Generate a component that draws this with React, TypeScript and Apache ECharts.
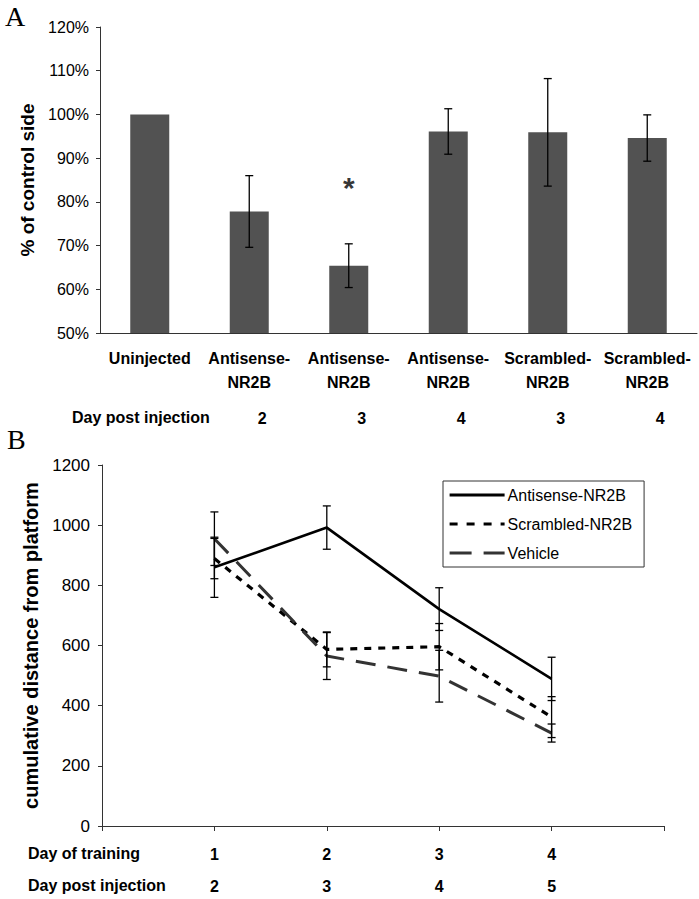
import React, { useEffect, useRef } from 'react';
import * as echarts from 'echarts';

// ---------- Panel A data ----------
const groupsA = ['Uninjected', 'Antisense-\nNR2B', 'Antisense-\nNR2B', 'Antisense-\nNR2B', 'Scrambled-\nNR2B', 'Scrambled-\nNR2B'];
const dayPostA = ['', '2', '3', '4', '3', '4'];
const percentA = [100, 77.8, 65.4, 96.1, 95.9, 94.6];
const errA = [0, 8.2, 5.0, 5.2, 12.3, 5.3];
const sigIndex = [2];
const sigValue = [84];

// ---------- Panel B data ----------
const daysB = [1, 2, 3, 4];
const dayTrainingLabels = ['1', '2', '3', '4'];
const dayPostB = ['2', '3', '4', '5'];
const antisense = [860, 992, 721, 489];
const antisenseErr = [100, 72, 71, 72];
const scrambled = [889, 587, 596, 362];
const scrambledErr = [67, 58, 77, 68];
const vehicle = [955, 565, 498, 309];
const vehicleErr = [89, 78, 86, 30];

const FONT = "'Liberation Sans', Arial, sans-serif";

function errRender(params: any, api: any) {
  const x = api.value(0);
  const y = api.value(1);
  const e = api.value(2);
  if (!e) return { type: 'group', children: [] };
  const top = api.coord([x, y + e]);
  const bot = api.coord([x, y - e]);
  const hw = 4;
  const style = { stroke: '#000', lineWidth: 1.3 };
  return {
    type: 'group',
    children: [
      { type: 'line', shape: { x1: top[0], y1: top[1], x2: bot[0], y2: bot[1] }, style },
      { type: 'line', shape: { x1: top[0] - hw, y1: top[1], x2: top[0] + hw, y2: top[1] }, style },
      { type: 'line', shape: { x1: bot[0] - hw, y1: bot[1], x2: bot[0] + hw, y2: bot[1] }, style },
    ],
  };
}

export default function App() {
  const ref = useRef<HTMLDivElement>(null);
  useEffect(() => {
    document.body.style.margin = '0';
    const chart = echarts.init(ref.current!, undefined, { renderer: 'svg' });
    const axisLineStyle = { color: '#333', width: 1 };
    const hidden = { color: 'rgba(0,0,0,0)', borderColor: 'rgba(0,0,0,0)', borderWidth: 0 };
    const option: any = {
      animation: false,
      backgroundColor: '#fff',
      textStyle: { fontFamily: FONT, color: '#000' },
      grid: [
        { left: 100, top: 27, width: 597, height: 306 },
        { left: 102, top: 465, width: 562, height: 361 },
      ],
      legend: {
        data: [
          { name: 'Antisense-NR2B', itemStyle: hidden, lineStyle: { width: 3, color: '#000', type: 'solid' } },
          { name: 'Scrambled-NR2B', itemStyle: hidden, lineStyle: { width: 3.2, color: '#000', type: [8, 9] } },
          { name: 'Vehicle', itemStyle: hidden, lineStyle: { width: 3, color: '#333', type: [22, 12] } },
        ],
        orient: 'vertical',
        left: 443,
        top: 481,
        padding: [6, 12, 6, 5],
        itemGap: 13,
        itemWidth: 55,
        itemHeight: 14,
        borderColor: '#333',
        borderWidth: 1,
        textStyle: { fontSize: 16, color: '#000', fontFamily: FONT, padding: [0, 0, 0, -2] },
      },
      xAxis: [
        {
          type: 'category',
          gridIndex: 0,
          data: groupsA,
          boundaryGap: true,
          axisLine: { lineStyle: axisLineStyle },
          axisTick: { length: 5, lineStyle: axisLineStyle },
          axisLabel: {
            interval: 0,
            margin: 13,
            formatter: (v: string, i: number) => {
              const parts = v.split('\n');
              const l1 = `{a|${parts[0]}}`;
              const l2 = parts[1] ? `{a|${parts[1]}}` : `{a| }`;
              const l3 = dayPostA[i] ? `{n|${dayPostA[i]}}` : `{n| }`;
              return `${l1}\n${l2}\n${l3}`;
            },
            rich: {
              a: { fontSize: 16, fontWeight: 'bold', lineHeight: 24, color: '#000', fontFamily: FONT },
              n: { fontSize: 16, fontWeight: 'bold', lineHeight: 48, color: '#000', fontFamily: FONT, padding: [0, 0, 0, 26] },
            },
          },
        },
        {
          type: 'value',
          gridIndex: 1,
          min: 0,
          max: 5,
          interval: 1,
          splitLine: { show: false },
          axisLine: { lineStyle: axisLineStyle },
          axisTick: { length: 5, lineStyle: axisLineStyle },
          axisLabel: {
            margin: 12,
            showMinLabel: true,
            showMaxLabel: true,
            formatter: (v: number) => {
              const i = daysB.indexOf(v);
              if (i < 0) return '';
              return `{a|${dayTrainingLabels[i]}}\n{a|${dayPostB[i]}}`;
            },
            rich: {
              a: { fontSize: 16, fontWeight: 'bold', lineHeight: 32, color: '#000', fontFamily: FONT },
            },
          },
        },
      ],
      yAxis: [
        {
          type: 'value',
          gridIndex: 0,
          min: 50,
          max: 120,
          interval: 10,
          splitLine: { show: false },
          axisLine: { show: true, lineStyle: axisLineStyle },
          axisTick: { show: true, length: 4, lineStyle: axisLineStyle },
          axisLabel: { formatter: '{value}%', fontSize: 16, color: '#000', margin: 11, fontFamily: FONT },
          name: '% of control side',
          nameLocation: 'middle',
          nameGap: 51,
          nameRotate: 90,
          nameTextStyle: { fontSize: 19, fontWeight: 'bold', color: '#000', fontFamily: FONT },
        },
        {
          type: 'value',
          gridIndex: 1,
          min: 0,
          max: 1200,
          interval: 200,
          splitLine: { show: false },
          axisLine: { show: true, lineStyle: axisLineStyle },
          axisTick: { show: true, length: 4, lineStyle: axisLineStyle },
          axisLabel: { formatter: (v: number) => String(v), fontSize: 17, color: '#000', margin: 12, fontFamily: FONT },
          name: 'cumulative distance from platform',
          nameLocation: 'middle',
          nameGap: 52,
          nameRotate: 90,
          nameTextStyle: { fontSize: 20, fontWeight: 'bold', color: '#000', fontFamily: FONT },
        },
      ],
      series: [
        {
          name: 'percent',
          type: 'bar',
          xAxisIndex: 0,
          yAxisIndex: 0,
          data: percentA,
          barWidth: 39,
          itemStyle: { color: '#525252' },
        },
        {
          name: 'errA',
          type: 'custom',
          xAxisIndex: 0,
          yAxisIndex: 0,
          renderItem: errRender,
          encode: { x: 0, y: 1 },
          data: percentA.map((v, i) => [i, v, errA[i]]),
          z: 5,
        },
        {
          name: 'sig',
          type: 'scatter',
          xAxisIndex: 0,
          yAxisIndex: 0,
          symbolSize: 1,
          itemStyle: { color: 'rgba(0,0,0,0)' },
          data: sigIndex.map((i, k) => [i, sigValue[k]]),
          label: { show: true, formatter: '*', position: 'inside', fontSize: 30, fontWeight: 'bold', color: '#000', fontFamily: FONT, offset: [0, 3] },
        },
        {
          name: 'Antisense-NR2B',
          type: 'line',
          xAxisIndex: 1,
          yAxisIndex: 1,
          data: daysB.map((d, i) => [d, antisense[i]]),
          symbol: 'none',
          lineStyle: { color: '#000', width: 2.6, type: 'solid' },
          itemStyle: { color: '#000' },
          z: 3,
        },
        {
          name: 'Scrambled-NR2B',
          type: 'line',
          xAxisIndex: 1,
          yAxisIndex: 1,
          data: daysB.map((d, i) => [d, scrambled[i]]),
          symbol: 'none',
          lineStyle: { color: '#000', width: 3.2, type: [7, 7] },
          itemStyle: { color: '#000' },
          z: 3,
        },
        {
          name: 'Vehicle',
          type: 'line',
          xAxisIndex: 1,
          yAxisIndex: 1,
          data: daysB.map((d, i) => [d, vehicle[i]]),
          symbol: 'none',
          lineStyle: { color: '#333', width: 3, type: [20, 12] },
          itemStyle: { color: '#333' },
          z: 3,
        },
        {
          name: 'errAnti',
          type: 'custom',
          xAxisIndex: 1,
          yAxisIndex: 1,
          renderItem: errRender,
          encode: { x: 0, y: 1 },
          data: daysB.map((d, i) => [d, antisense[i], antisenseErr[i]]),
          z: 4,
        },
        {
          name: 'errScr',
          type: 'custom',
          xAxisIndex: 1,
          yAxisIndex: 1,
          renderItem: errRender,
          encode: { x: 0, y: 1 },
          data: daysB.map((d, i) => [d, scrambled[i], scrambledErr[i]]),
          z: 4,
        },
        {
          name: 'errVeh',
          type: 'custom',
          xAxisIndex: 1,
          yAxisIndex: 1,
          renderItem: errRender,
          encode: { x: 0, y: 1 },
          data: daysB.map((d, i) => [d, vehicle[i], vehicleErr[i]]),
          z: 4,
        },
      ],
      graphic: [
        { type: 'text', left: 5, top: 2, style: { text: 'A', fontSize: 28, fontFamily: "'Liberation Serif', 'DejaVu Serif', serif", fill: '#000' } },
        { type: 'text', left: 7, top: 425, style: { text: 'B', fontSize: 28, fontFamily: "'Liberation Serif', 'DejaVu Serif', serif", fill: '#000' } },
        { type: 'text', left: 72, top: 409, style: { text: 'Day post injection', fontSize: 16, fontWeight: 'bold', fontFamily: FONT, fill: '#000' } },
        { type: 'text', left: 28, top: 845, style: { text: 'Day of training', fontSize: 16, fontWeight: 'bold', fontFamily: FONT, fill: '#000' } },
        { type: 'text', left: 28, top: 877, style: { text: 'Day post injection', fontSize: 16, fontWeight: 'bold', fontFamily: FONT, fill: '#000' } },
      ],
    };
    chart.setOption(option);
    return () => chart.dispose();
  }, []);
  return <div ref={ref} style={{ width: 699, height: 899 }} />;
}
